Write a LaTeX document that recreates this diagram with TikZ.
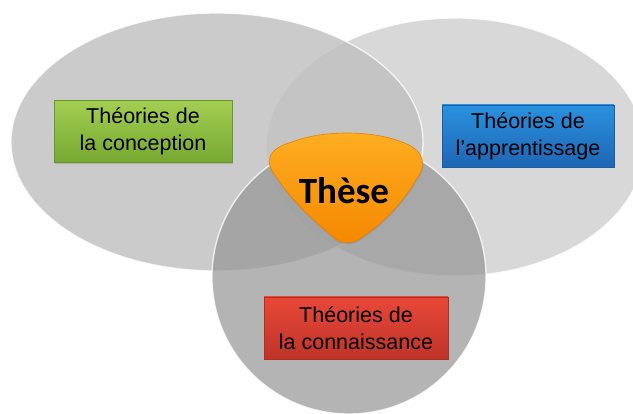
\documentclass[tikz,border=0pt]{standalone}
\usepackage{fontspec}
\newfontfamily\boxfont{Liberation Sans}
\newfontfamily\thfont{Carlito}
\usetikzlibrary{shadows}
\definecolor{grL}{RGB}{191,191,191}
\definecolor{grR}{RGB}{216,216,216}
\definecolor{grB}{RGB}{149,149,149}
\definecolor{gTop}{RGB}{163,206,82}
\definecolor{gBot}{RGB}{118,168,48}
\definecolor{bTop}{RGB}{42,145,222}
\definecolor{bBot}{RGB}{30,102,180}
\definecolor{rTop}{RGB}{232,72,56}
\definecolor{rBot}{RGB}{190,52,40}
\definecolor{oTop}{RGB}{255,174,34}
\definecolor{oBot}{RGB}{244,136,0}
\definecolor{oEdge}{RGB}{226,128,8}
\tikzset{
  setcirc/.style={draw=white, line width=1.3pt, draw opacity=0.8},
  theorybox/.style={rectangle, minimum height=62pt, inner sep=0pt,
    align=center, font=\boxfont\fontsize{21.5}{27}\selectfont,
    drop shadow={shadow xshift=1pt, shadow yshift=-1.5pt, opacity=0.35}},
}
\begin{document}
\begin{tikzpicture}[x=1pt,y=-1pt]
\useasboundingbox (0,0) rectangle (633,414);
\fill[white] (0,0) rectangle (633,414);
% sets
\path[setcirc, fill=grR] (455,147) ellipse [x radius=189pt, y radius=129pt];
\path[setcirc, fill=grL, fill opacity=0.8] (217,142) ellipse [x radius=206pt, y radius=129pt];
\path[setcirc, fill=grB, fill opacity=0.7] (349,277) circle [radius=137pt];
% boxes
\node[theorybox, minimum width=178pt, top color=gTop, bottom color=gBot, draw=gBot!90!black, line width=0.4pt] (conc) at (143,131.5) {Théories de\\la conception};
\node[theorybox, minimum width=172pt, top color=bTop, bottom color=bBot, draw=bBot!90!black, line width=0.4pt] (appr) at (528,136) {Théories de\\l’apprentissage};
\node[theorybox, minimum width=184pt, top color=rTop, bottom color=rBot, draw=rBot!90!black, line width=0.4pt] (conn) at (356,328) {Théories de\\la connaissance};
% these shape
\path[draw=oEdge, line width=0.6pt, top color=oTop, bottom color=oBot,
  drop shadow={shadow xshift=0.5pt, shadow yshift=-1.5pt, opacity=0.3}]
  (277,178) .. controls (262,160) and (270,148) .. (292,142)
  .. controls (322,130) and (372,130) .. (402,142)
  .. controls (424,150) and (428,164) .. (416,180)
  .. controls (402,204) and (382,224) .. (364,236)
  .. controls (354,245) and (340,245) .. (332,236)
  .. controls (310,218) and (290,198) .. (277,178) -- cycle;
\node[anchor=base, inner sep=0pt, font=\thfont\bfseries\fontsize{37}{40}\selectfont] (these) at (344,204) {Thèse};
\end{tikzpicture}
\end{document}
